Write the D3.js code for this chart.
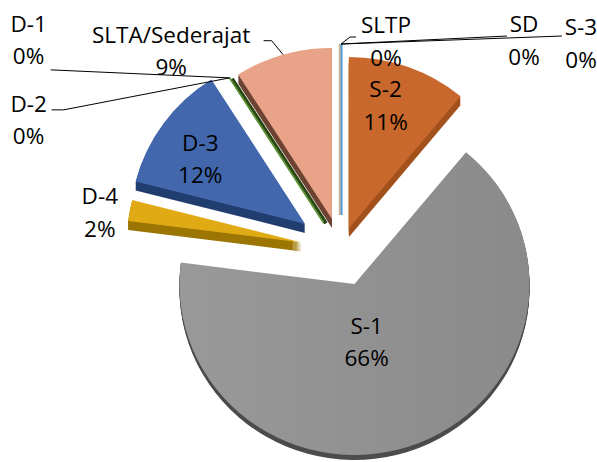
<!DOCTYPE html>
<html>
<head>
<meta charset="utf-8">
<script src="https://cdn.jsdelivr.net/npm/d3@7"></script>
<style>
  body { margin: 0; background: #fff; }
  text { font-family: "Open Sans", sans-serif; font-size: 22.5px; fill: #000; }
</style>
</head>
<body>
<script>
// data (share of each level, in percent)
var categories = ["S-3", "S-2", "S-1", "D-4", "D-3", "D-2", "D-1", "SLTA/Sederajat", "SLTP", "SD"];
var values     = [0, 11, 66, 2, 12, 0, 0, 9, 0, 0];

var colors = {
  "S-3": "#5b9bd5", "S-2": "#c9682c", "S-1": "#8e8e8e", "D-4": "#e0aa14",
  "D-3": "#4267ad", "D-2": "#5e9438", "D-1": "#5e9438",
  "SLTA/Sederajat": "#e9a388", "SLTP": "#5b9bd5", "SD": "#cbb68f"
};
var sideColors = {
  "S-2": "#a3511c", "S-1": "#4c4c4c", "D-4": "#9c7604", "D-3": "#223e70",
  "D-2": "#2b4716", "D-1": "#2b4716", "SLTA/Sederajat": "#6e4434"
};

// how far each slice is pulled out of the pie
var explode = {
  "S-3": 35, "S-2": 23.5, "S-1": 36.6, "D-4": 40, "D-3": 44.4, "D-2": 32.9,
  "D-1": 32.9, "SLTA/Sederajat": 32.4, "SLTP": 35, "SD": 35
};
// thickness of the side wall that shows under each slice
var depthOf = {"S-2": 9, "S-1": 5, "D-4": 9, "D-3": 9, "SLTA/Sederajat": 9};

// label placement: rf = where along the radius to start, dx/dy nudge,
// lead = leader end relative to the label, elbow = short flat part of the leader
var labelStyle = {
  "S-3": {rf: 1, dx: 240, dy: -9, lead: [-19, 1], elbow: 0},
  "S-2": {rf: 0.5, dx: 7, dy: -50},
  "S-1": {rf: 0.5, dx: -20, dy: -30},
  "D-4": {rf: 1, dx: -30, dy: -6},
  "D-3": {rf: 0.5, dx: -34, dy: -23},
  "D-2": {rf: 1, dx: -201, dy: 34, lead: [23, -2], elbow: 12},
  "D-1": {rf: 1, dx: -201, dy: -46, lead: [22, 38], elbow: 0},
  "SLTA/Sederajat": {rf: 1, dx: -112, dy: -12, lead: [92.5, -2], elbow: 8},
  "SLTP": {rf: 1, dx: 45, dy: -11, lead: [-30, 4], elbow: -6},
  "SD": {rf: 1, dx: 183, dy: -12, lead: [-17, 4], elbow: 0}
};

var width = 597, height = 462;
var cx = 341, cy = 250, R = 175, k = 0.977, lineGap = 32.5;

var data = categories.map(function(c, i){ return {name: c, value: values[i]}; });
var total = d3.sum(values);
var pct = d3.format(".0%");

var svg = d3.select("body").append("svg")
  .attr("width", width)
  .attr("height", height);

var grad = svg.append("defs").append("linearGradient")
  .attr("id", "greyTop").attr("x1", "0%").attr("x2", "100%").attr("y1", "0%").attr("y2", "0%");
grad.append("stop").attr("offset", "0%").attr("stop-color", "#999999");
grad.append("stop").attr("offset", "100%").attr("stop-color", "#8a8a8a");

var pie = d3.pie().sort(null).value(function(d){ return d.value; });
var arc = d3.arc().innerRadius(0).outerRadius(R);
var arcs = pie(data);

// vertex of every (exploded) slice and a point on its rim
arcs.forEach(function(a){
  var mid = (a.startAngle + a.endAngle) / 2;
  var e = explode[a.data.name];
  a.mid = mid;
  a.vx = cx + e * Math.sin(mid);
  a.vy = cy - e * Math.cos(mid);
});
function rim(a, ang, f){
  return [a.vx + f * R * Math.sin(ang), a.vy - f * R * k * Math.cos(ang)];
}

var solid = arcs.filter(function(a){ return a.value > 0; });
var zero = arcs.filter(function(a){ return a.value === 0; });

// side walls: stacked darker copies pushed down
var sides = svg.append("g");
solid.forEach(function(a){
  for (var t = depthOf[a.data.name]; t >= 1; t--) {
    sides.append("path")
      .attr("d", arc(a))
      .attr("fill", sideColors[a.data.name])
      .attr("transform", "translate(" + a.vx + "," + (a.vy + t) + ") scale(1," + k + ")");
  }
});

// top faces
svg.append("g").selectAll("path")
  .data(solid)
  .enter()
  .append("path")
  .attr("d", arc)
  .attr("fill", function(d){ return d.data.name === "S-1" ? "url(#greyTop)" : colors[d.data.name]; })
  .attr("transform", function(d){ return "translate(" + d.vx + "," + d.vy + ") scale(1," + k + ")"; });

// empty slices are only thin edges
var zg = svg.append("g");
zero.forEach(function(a){
  var tip = rim(a, a.startAngle, 1);
  var name = a.data.name;
  if (name === "D-2" || name === "D-1") {
    zg.append("line")
      .attr("x1", a.vx + 2.5).attr("y1", a.vy + 1).attr("x2", tip[0] + 2.5).attr("y2", tip[1] + 1)
      .attr("stroke", "#2b4716").attr("stroke-width", 3.5);
    zg.append("line")
      .attr("x1", a.vx).attr("y1", a.vy).attr("x2", tip[0]).attr("y2", tip[1])
      .attr("stroke", colors[name]).attr("stroke-width", 1.6);
  } else {
    var off = name === "SD" ? -1.5 : (name === "SLTP" ? 0.8 : 0);
    zg.append("line")
      .attr("x1", a.vx + off).attr("y1", a.vy).attr("x2", tip[0] + off).attr("y2", tip[1])
      .attr("stroke", colors[name]).attr("stroke-width", 1.6);
  }
});

// labels and leader lines
var lg = svg.append("g");
arcs.forEach(function(a){
  var s = labelStyle[a.data.name];
  var ref = rim(a, a.mid, s.rf);
  var x = ref[0] + s.dx, y = ref[1] + s.dy;

  var txt = lg.append("text").attr("text-anchor", "middle");
  txt.append("tspan").attr("x", x).attr("y", y).text(a.data.name);
  txt.append("tspan").attr("x", x).attr("y", y + lineGap).text(pct(a.value / total));

  if (s.lead) {
    var tip = rim(a, a.mid, 1);
    var ex = x + s.lead[0], ey = y + s.lead[1];
    var pts = [[ex, ey]];
    if (s.elbow) pts.push([ex + s.elbow, ey]);
    pts.push(tip);
    lg.append("path")
      .attr("d", d3.line()(pts))
      .attr("fill", "none")
      .attr("stroke", "#000")
      .attr("stroke-width", 1);
  }
});
</script>
</body>
</html>
